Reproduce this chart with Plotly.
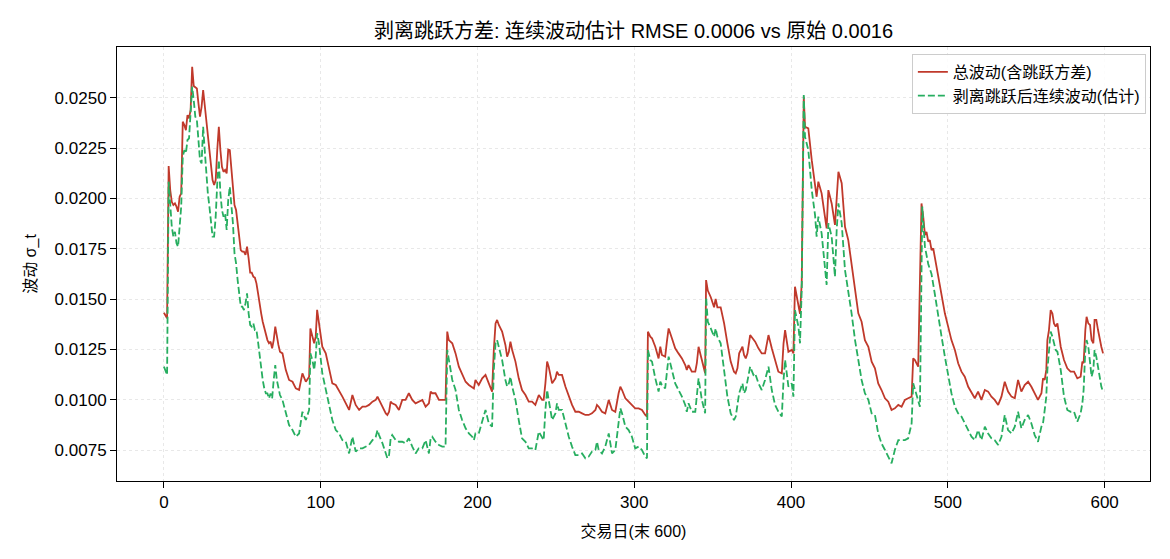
import numpy as np
import plotly.graph_objects as go

# ---------------- data (volatility in basis points, i.e. x1e-4) ----------------
total_day = [
    0, 1, 2, 3, 4, 5, 6, 7, 8, 9, 10, 11, 12, 13, 14, 15, 16, 17, 18, 19, 20, 21, 22, 23, 24,
    25, 26, 27, 28, 29, 30, 31, 32, 33, 34, 35, 36, 37, 38, 39, 40, 41, 42, 43, 44, 45, 46, 47,
    48, 49, 50, 51, 52, 53, 54, 55, 56, 57, 58, 59, 60, 61, 62, 63, 64, 65, 66, 67, 68, 69, 70,
    71, 72, 73, 74,
    75.6, 77.7, 79.8, 82.0, 84.1, 86.2, 88.3, 90.5, 92.6, 93.4, 94.7, 95.8, 96.8, 97.7, 98.9,
    101.0, 103.2, 105.3, 107.4, 109.6, 111.7, 113.8, 116.0, 118.1, 120.2, 122.3, 124.5, 126.6,
    128.7, 130.8, 133.0, 135.1, 136.2, 137.2, 139.4, 141.5, 142.5, 143.6, 144.6, 145.6, 147.8,
    149.9,
    152.0, 154.1, 156.2, 158.4, 160.5, 162.5, 164.8, 166.9, 169.0, 170.1, 171.1, 173.2, 175.4,
    177.5, 179.6, 180.7, 181.7, 183.9, 186.0, 188.1, 190.2, 192.4, 194.5, 196.6, 197.7, 198.7,
    200.8, 203.0, 205.1, 207.2, 209.3, 210.4, 211.5, 212.5, 213.6, 215.7, 217.8, 218.9, 220.0,
    221.0, 222.1,
    224.2, 226.3, 228.4, 230.6, 232.7, 234.8, 236.9, 239.1, 241.2, 242.2, 243.3, 244.4, 245.4,
    247.6, 249.7, 250.7, 251.8, 253.9, 256.1, 258.2, 260.3, 262.4, 264.6, 266.7, 268.8, 270.9,
    273.0, 275.2, 276.2, 277.3, 279.4, 281.5, 283.7, 285.8, 287.9, 290.0, 291.1, 292.2, 294.3,
    296.4, 298.5,
    300.6, 302.8, 304.9, 307.0, 308.1, 308.7, 310.2, 311.3, 313.4, 315.5, 316.6, 317.6, 319.7,
    320.8, 321.9, 324.0, 326.1, 328.2, 330.4, 332.5, 333.5, 334.6, 336.7, 338.9, 339.9, 341.0,
    343.1, 345.2, 345.8, 346.9, 348.8, 350.9, 351.9, 353.0, 355.1, 357.3, 359.4, 361.5, 363.6,
    364.7, 365.8, 366.9, 369.0, 370.0, 371.1, 372.2, 373.9, 376.0,
    377.1, 379.2, 381.3, 383.4, 385.6, 387.7, 389.8, 391.9, 394.1, 395.2, 396.2, 398.3, 400.4,
    401.5, 402.5, 404.7, 405.7, 406.8, 408.1, 408.9, 411.0, 413.2, 415.3, 416.3, 417.4, 419.5,
    421.6, 422.7, 423.8, 425.9, 428.0, 429.1, 430.2, 432.3, 434.4, 436.5, 438.6, 440.8, 442.9,
    445.0, 447.1, 449.3, 451.4,
    453.5, 455.6, 457.7, 459.9, 462.0, 464.1, 466.2, 468.4, 470.5, 472.6, 474.7, 476.9, 477.9,
    479.0, 481.1, 483.2, 484.3, 485.4, 486.4, 487.5, 488.5, 489.6, 490.7, 491.7, 493.8, 496.0,
    498.1, 500.2, 502.3, 504.5, 506.6, 508.7, 510.8, 513.0, 515.1, 517.2, 519.3, 521.4, 523.6,
    525.7, 527.8,
    529.9, 532.1, 534.2, 536.3, 538.4, 540.6, 542.7, 544.8, 546.9, 549.0, 551.2, 553.3, 555.4,
    557.5, 559.7, 560.7, 561.8, 562.8, 563.5, 564.5, 565.6, 566.7, 567.7, 568.8, 569.9, 570.9,
    572.0, 574.1, 576.2, 578.3, 580.5, 582.6, 584.7, 585.8, 586.6, 587.7, 588.5, 589.6, 590.7,
    591.7, 592.8, 593.6, 594.7, 595.8, 596.8, 597.9, 599.0,
]
total_vol_bp = [
    143.2, 142.1, 140.4, 216.1, 204.1, 198.3, 196.7, 197.5, 195.9, 193.4, 200.8, 202.5, 238.1,
    236.4, 233.9, 241.4, 239.7, 243.9, 265.4, 255.8, 255.1, 254.6, 247.2, 240.6, 245.5, 253.8,
    246.4, 237.3, 231.5, 224.0, 215.7, 209.1, 206.6, 209.1, 224.0, 235.6, 224.0, 215.7, 213.2,
    214.1, 212.4, 224.3, 224.0, 215.7, 204.1, 196.7, 194.2, 187.6, 181.0, 174.3, 173.5, 173.5,
    171.9, 176.0, 170.2, 163.1, 163.1, 161.1, 160.6, 157.8, 152.9, 147.0, 142.9, 138.7, 135.4,
    132.1, 129.6, 128.0, 128.8, 125.5, 129.6, 136.3, 131.3, 127.2, 123.8,
    123.0, 114.8, 109.8, 108.9, 105.6, 104.8, 113.1, 108.9, 111.4, 135.4, 131.3, 128.0, 131.3,
    144.6, 137.9, 126.3, 123.0, 114.8, 108.1, 107.3, 104.0, 101.5, 98.2, 94.9, 102.3, 97.4,
    94.9, 96.5, 96.5, 97.4, 99.0, 99.9, 101.5, 99.9, 96.5, 93.2, 92.4, 94.0, 99.0, 98.2, 97.4,
    94.9,
    99.9, 99.9, 103.2, 99.9, 98.2, 99.0, 99.9, 96.5, 98.2, 104.0, 103.2, 103.2, 99.9, 99.9,
    99.9, 133.8, 129.6, 128.0, 123.0, 116.4, 112.3, 108.9, 107.3, 106.4, 105.6, 109.8, 107.3,
    110.6, 112.3, 108.1, 104.0, 124.7, 137.9, 139.6, 137.1, 133.8, 127.2, 121.4, 123.8, 128.8,
    124.7,
    118.9, 110.6, 104.8, 102.3, 99.0, 99.0, 97.4, 102.3, 99.9, 99.9, 108.1, 118.9, 116.4,
    108.1, 110.6, 113.9, 112.3, 112.3, 106.4, 101.5, 97.4, 94.0, 94.0, 93.2, 92.4, 92.4, 93.2,
    94.9, 97.4, 96.5, 94.0, 93.2, 99.9, 94.9, 94.0, 103.2, 106.4, 104.8, 100.7, 99.0, 97.4,
    95.7, 95.7, 94.9, 92.4, 91.6, 133.8, 131.3, 130.5, 126.3, 120.5, 126.3, 122.2, 121.4,
    128.8, 135.4, 130.5, 125.5, 123.0, 120.5, 117.2, 114.8, 117.2, 113.9, 113.9, 118.1, 126.3,
    118.9, 113.1, 159.4, 154.2, 150.9, 145.9, 150.0, 145.9, 145.9, 137.9, 128.0, 118.9, 113.9,
    113.1, 115.6, 123.0, 126.3, 122.2, 120.5, 123.0, 132.1, 129.6,
    128.8, 125.5, 123.0, 123.0, 132.1, 125.5, 119.7, 113.9, 113.1, 128.0, 134.6, 123.8, 124.7,
    123.0, 156.1, 147.5, 142.6, 157.8, 250.5, 235.6, 234.8, 219.0, 208.3, 200.8, 208.3, 202.5,
    190.9, 185.1, 204.1, 197.5, 186.8, 202.5, 213.2, 207.5, 185.9, 179.3, 167.7, 154.5, 142.9,
    138.7, 129.6, 126.3, 118.9,
    115.6, 108.1, 104.8, 100.7, 99.0, 94.9, 95.7, 97.4, 96.5, 99.9, 100.7, 101.5, 120.5,
    119.7, 116.4, 197.5, 190.9, 181.8, 183.4, 178.5, 179.3, 174.3, 175.1, 171.0, 161.1, 152.9,
    142.9, 136.3, 129.6, 124.7, 118.1, 113.9, 111.4, 106.4, 103.2, 100.7, 104.0, 99.9, 104.8,
    104.0, 101.5,
    99.9, 97.4, 101.5, 108.9, 104.0, 101.5, 100.7, 109.8, 104.0, 107.3, 108.9, 106.4, 103.2,
    99.9, 103.2, 110.6, 109.8, 114.8, 129.6, 134.6, 144.5, 142.8, 137.9, 136.3, 137.9, 131.3,
    126.3, 119.7, 115.6, 113.9, 113.9, 110.6, 111.4, 118.9, 118.1, 134.6, 141.2, 137.9, 137.1,
    129.6, 128.0, 139.6, 139.6, 134.6, 129.6, 126.3, 123.0,
]

cont_day = [
    0, 1, 2, 3, 4, 5, 6, 7, 8, 9, 10, 11, 12, 13, 14, 15, 16, 17, 18, 19, 20, 21, 22, 23, 24,
    25, 26, 27, 28, 29, 30, 31, 32, 33, 34, 35, 36, 37, 38, 39, 40, 41, 42, 43, 44, 45, 46, 47,
    48, 49, 50, 51, 52, 53, 54, 55, 56, 57, 58, 59, 60, 61, 62, 63, 64, 65, 66, 67, 68, 69, 70,
    71, 72, 73, 74,
    75.6, 77.7, 79.8, 82.0, 84.1, 86.2, 88.3, 90.5, 92.6, 93.4, 94.7, 95.8, 96.8, 97.7, 98.9,
    101.0, 103.2, 105.3, 107.4, 109.6, 111.7, 113.8, 116.0, 118.1, 120.2, 122.3, 124.5, 126.6,
    128.7, 130.8, 133.0, 135.1, 136.2, 137.2, 139.4, 141.5, 142.5, 143.6, 144.6, 145.6, 147.8,
    149.9,
    152.0, 154.1, 156.2, 158.4, 160.5, 162.5, 164.8, 166.9, 169.0, 170.1, 171.1, 173.2, 175.4,
    177.5, 179.6, 180.7, 181.7, 183.9, 186.0, 188.1, 190.2, 192.4, 194.5, 196.6, 197.7, 198.7,
    200.8, 203.0, 205.1, 207.2, 209.3, 210.4, 211.5, 212.5, 213.6, 215.7, 217.8, 218.9, 220.0,
    221.0, 222.1,
    224.2, 226.3, 228.4, 230.6, 232.7, 234.8, 236.9, 239.1, 241.2, 242.2, 243.3, 244.4, 245.4,
    247.6, 249.7, 250.7, 251.8, 253.9, 256.1, 258.2, 260.3, 262.4, 264.6, 266.7, 268.8, 270.9,
    273.0, 275.2, 276.2, 277.3, 279.4, 281.5, 283.7, 285.8, 287.9, 290.0, 291.1, 292.2, 294.3,
    296.4, 298.5,
    300.6, 302.8, 304.9, 307.0, 308.1, 308.7, 310.2, 311.3, 313.4, 315.5, 316.6, 317.6, 319.7,
    320.8, 321.9, 324.0, 326.1, 328.2, 330.4, 332.5, 333.5, 334.6, 336.7, 338.9, 339.9, 341.0,
    343.1, 345.2, 345.8, 346.9, 348.8, 350.9, 351.9, 353.0, 355.1, 357.3, 359.4, 361.5, 363.6,
    364.7, 365.8, 366.9, 369.0, 370.0, 371.1, 372.2, 373.9, 376.0,
    377.1, 379.2, 381.3, 383.4, 385.6, 387.7, 389.8, 391.9, 394.1, 395.2, 396.2, 398.3, 400.4,
    401.5, 402.5, 404.7, 405.7, 406.8, 408.1, 408.9, 411.0, 413.2, 415.3, 416.3, 417.4, 419.5,
    421.6, 422.7, 423.8, 425.9, 428.0, 429.1, 430.2, 432.3, 434.4, 436.5, 438.6, 440.8, 442.9,
    445.0, 447.1, 449.3, 451.4,
    453.5, 455.6, 457.7, 459.9, 462.0, 464.1, 466.2, 468.4, 470.5, 472.6, 474.7, 476.9, 477.9,
    479.0, 481.1, 482.2, 483.7, 484.7, 485.4, 487.5, 489.6, 491.7, 493.8, 496.0, 498.1, 500.2,
    502.3, 504.5, 506.6, 508.7, 510.8, 513.0, 515.1, 517.2, 519.3, 521.4, 523.6, 525.7, 527.8,
    529.9, 532.1, 534.2, 536.3, 538.4, 540.6, 542.7, 544.8, 546.9, 549.0, 551.2, 553.3, 555.4,
    557.5, 559.7, 560.7, 561.8, 562.8, 563.5, 564.5, 565.6, 566.7, 567.7, 568.8, 569.9, 570.9,
    572.0, 574.1, 576.2, 578.3, 580.5, 582.6, 584.7, 585.8, 586.6, 587.7, 588.5, 589.6, 590.7,
    591.7, 592.8, 593.6, 594.7, 595.8, 596.8, 597.9, 599.0,
]
cont_vol_bp = [
    116.4, 114.7, 112.3, 208.3, 195.9, 185.9, 181.0, 183.4, 177.7, 176.0, 185.9, 195.9, 220.7,
    224.0, 222.4, 229.0, 229.8, 242.2, 255.5, 248.8, 240.6, 238.9, 230.6, 219.0, 217.4, 235.6,
    224.0, 212.4, 202.5, 195.9, 187.6, 181.0, 181.0, 190.9, 207.5, 219.0, 202.5, 194.2, 190.9,
    192.6, 184.3, 199.2, 205.8, 197.5, 187.6, 172.7, 167.7, 159.4, 151.2, 146.2, 146.2, 144.5,
    147.8, 152.8, 142.9, 137.1, 136.3, 137.9, 134.6, 134.6, 128.8, 121.4, 114.7, 109.8, 105.6,
    103.1, 103.1, 100.6, 103.1, 100.6, 109.8, 117.2, 109.8, 106.5, 102.3,
    99.8, 93.2, 87.4, 84.9, 81.6, 83.2, 94.0, 89.9, 94.9, 123.0, 119.7, 114.8, 121.4, 133.0,
    128.0, 113.1, 104.8, 98.2, 89.9, 84.9, 83.2, 79.9, 79.1, 73.3, 81.6, 74.2, 75.8, 75.8,
    76.7, 77.5, 79.9, 81.6, 84.9, 82.4, 78.3, 72.5, 70.9, 72.5, 80.8, 82.4, 79.9, 79.1,
    79.1, 78.3, 80.8, 76.7, 73.3, 75.8, 75.8, 79.9, 73.3, 80.8, 81.6, 79.1, 77.5, 76.7, 76.7,
    124.7, 119.7, 109.8, 104.8, 94.9, 89.9, 85.8, 83.2, 81.6, 79.9, 83.2, 83.2, 89.9, 94.9,
    88.2, 86.6, 114.8, 128.0, 129.6, 126.3, 119.7, 109.8, 106.5, 108.1, 111.4, 106.5,
    99.9, 89.9, 80.8, 79.1, 75.8, 75.8, 75.0, 84.1, 81.6, 79.9, 94.9, 104.8, 99.9, 89.9, 93.2,
    98.2, 94.9, 94.9, 88.2, 81.6, 76.7, 72.5, 72.5, 73.3, 70.9, 71.7, 74.2, 75.0, 79.1, 75.0,
    73.3, 76.7, 83.2, 73.3, 75.0, 88.2, 95.7, 93.2, 86.6, 84.9, 81.6,
    75.8, 76.7, 75.0, 71.7, 70.9, 124.7, 119.7, 118.9, 110.6, 104.0, 108.9, 107.3, 105.6,
    115.6, 121.4, 114.8, 108.1, 104.8, 101.5, 97.4, 94.0, 98.2, 94.0, 94.0, 101.5, 110.6,
    99.9, 93.2, 150.9, 138.7, 135.4, 131.3, 135.4, 131.3, 128.0, 114.8, 101.5, 93.2, 89.9,
    91.6, 97.4, 103.2, 108.1, 103.2, 104.8, 109.8, 116.4, 112.3,
    113.1, 108.1, 104.8, 109.8, 116.4, 104.8, 97.4, 94.0, 91.6, 109.8, 119.7, 106.5, 108.1,
    101.5, 144.5, 136.3, 128.0, 154.5, 251.3, 230.6, 224.0, 204.1, 191.7, 181.0, 190.9, 182.6,
    164.4, 157.0, 187.6, 181.0, 161.1, 184.3, 197.5, 187.6, 164.4, 154.5, 142.9, 129.6, 119.7,
    109.8, 103.2, 99.9, 93.2,
    92.4, 83.2, 78.3, 75.0, 71.7, 68.4, 75.0, 79.9, 79.9, 79.9, 80.8, 88.2, 108.1, 104.8,
    99.9, 96.5, 195.9, 181.0, 175.9, 167.4, 162.4, 152.5, 141.2, 131.3, 121.4, 111.4, 103.2,
    96.5, 93.2, 91.6, 88.2, 84.9, 81.6, 79.9, 84.9, 79.9, 86.6, 83.2, 80.8,
    79.9, 77.5, 81.6, 92.4, 84.9, 83.2, 86.6, 94.0, 85.8, 89.9, 92.4, 88.2, 82.4, 79.1, 86.6,
    88.2, 94.9, 101.5, 114.8, 124.7, 133.8, 131.3, 128.0, 124.7, 123.8, 119.7, 114.8, 101.5,
    94.9, 94.0, 94.0, 89.1, 93.2, 98.2, 104.8, 124.7, 129.6, 126.3, 119.7, 111.4, 114.8,
    124.7, 121.4, 116.4, 109.8, 106.5, 103.9,
]

y_ticks = [0.0075, 0.0100, 0.0125, 0.0150, 0.0175, 0.0200, 0.0225, 0.0250]
x_ticks = [0, 100, 200, 300, 400, 500, 600]

total_vol = np.array(total_vol_bp) / 1e4
cont_vol = np.array(cont_vol_bp) / 1e4

FONT = "Liberation Sans, Arial, 'Noto Sans CJK SC', sans-serif"

fig = go.Figure()
fig.add_trace(go.Scatter(
    x=total_day, y=total_vol, mode="lines", name="总波动(含跳跃方差)",
    line=dict(color="#c0392b", width=1.8),
))
fig.add_trace(go.Scatter(
    x=cont_day, y=cont_vol, mode="lines", name="剥离跳跃后连续波动(估计)",
    line=dict(color="#27ae60", width=1.8, dash="7px,3px"),
))

axis_common = dict(
    showline=True, linecolor="black", linewidth=1, mirror=True,
    ticks="outside", ticklen=6, tickcolor="black", tickwidth=1,
    showgrid=True, gridcolor="#e8e8e8", griddash="dot", gridwidth=1,
    zeroline=False, tickfont=dict(size=17, color="black", family=FONT),
)

fig.update_layout(
    width=1170, height=559,
    margin=dict(l=117, r=20, t=47, b=78),
    paper_bgcolor="white", plot_bgcolor="white",
    font=dict(family=FONT, size=16, color="black"),
    title=dict(
        text="剥离跳跃方差: 连续波动估计 RMSE 0.0006 vs 原始 0.0016",
        x=0.5, xref="paper", xanchor="center",
        y=1 - 31 / 559, yref="container", yanchor="middle",
        font=dict(size=20, color="black", family=FONT),
    ),
    xaxis=dict(
        range=[-29.95, 628.95], tickvals=x_ticks, ticktext=[str(v) for v in x_ticks],
        title=dict(text="交易日(末 600)", standoff=14, font=dict(size=16)),
        **axis_common,
    ),
    yaxis=dict(
        range=[0.00596, 0.02752], tickvals=y_ticks, ticktext=[f"{v:.4f}" for v in y_ticks],
        title=dict(text="波动 σ_t", standoff=13, font=dict(size=16)),
        **axis_common,
    ),
    legend=dict(
        x=0.996, y=0.984, xanchor="right", yanchor="top",
        bgcolor="rgba(255,255,255,0.85)", bordercolor="#cccccc", borderwidth=1,
        font=dict(size=16, color="black", family=FONT),
        tracegroupgap=2,
    ),
    showlegend=True,
)

fig.write_html("out.html")
